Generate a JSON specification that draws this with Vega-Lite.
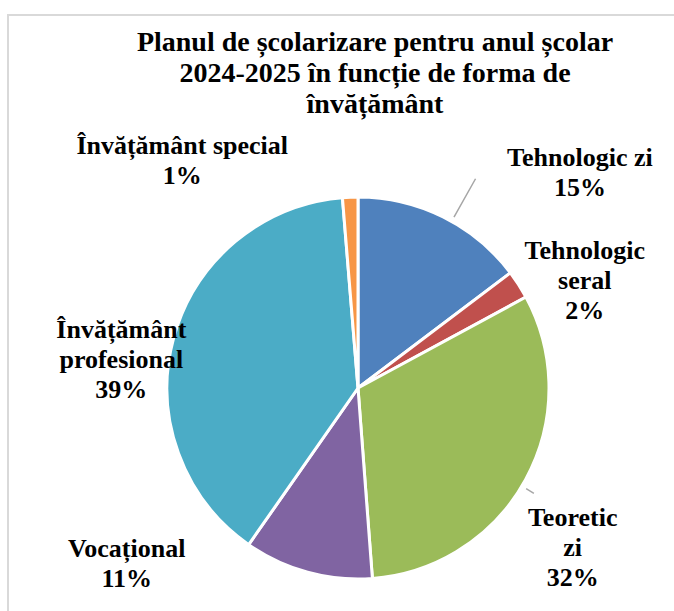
{
  "$schema": "https://vega.github.io/schema/vega-lite/v6.json",
  "width": 700,
  "height": 746,
  "autosize": {"type": "none"},
  "padding": {"left": 8, "top": 15, "right": 0, "bottom": 0},
  "background": "white",
  "view": {"stroke": "#d9d9d9", "strokeWidth": 2},
  "config": {
    "view": {"stroke": "#d9d9d9", "strokeWidth": 2},
    "text": {"font": "Liberation Serif", "fontWeight": "bold", "fontSize": 26, "lineHeight": 30, "lineBreak": "|", "align": "center", "baseline": "middle", "color": "#000000"}
  },
  "title": {
    "text": ["Planul de școlarizare pentru anul școlar", "2024-2025 în funcție de forma de", "învățământ"],
    "font": "Liberation Serif",
    "fontWeight": "bold",
    "fontSize": 28,
    "lineHeight": 31,
    "color": "#000000",
    "anchor": "middle",
    "frame": "group",
    "baseline": "alphabetic",
    "offset": -126,
    "dx": 17
  },
  "data": {
    "values": [
      {"category": "Tehnologic zi", "label": "Tehnologic zi", "value": 14.7, "rank": 1},
      {"category": "Tehnologic seral", "label": "Tehnologic|seral", "value": 2.4, "rank": 2},
      {"category": "Teoretic zi", "label": "Teoretic|zi", "value": 31.7, "rank": 3},
      {"category": "Vocațional", "label": "Vocațional", "value": 10.9, "rank": 4},
      {"category": "Învățământ profesional", "label": "Învățământ|profesional", "value": 39.0, "rank": 5},
      {"category": "Învățământ special", "label": "Învățământ special", "value": 1.3, "rank": 6}
    ]
  },
  "transform": [
    {"joinaggregate": [{"op": "sum", "field": "value", "as": "total"}]},
    {"window": [{"op": "sum", "field": "value", "as": "cum"}], "sort": [{"field": "rank", "order": "ascending"}], "frame": [null, 0]},
    {"calculate": "datum.cum - datum.value / 2", "as": "mid"},
    {"calculate": "datum.label + '|' + format(datum.value / datum.total, '.0%')", "as": "txt"}
  ],
  "layer": [
    {
      "mark": {"type": "arc", "outerRadius": 191, "stroke": "white", "strokeWidth": 3},
      "encoding": {
        "theta": {"field": "value", "type": "quantitative", "stack": true},
        "order": {"field": "rank", "type": "quantitative"},
        "color": {
          "field": "category",
          "type": "nominal",
          "scale": {
            "domain": ["Tehnologic zi", "Tehnologic seral", "Teoretic zi", "Vocațional", "Învățământ profesional", "Învățământ special"],
            "range": ["#4F81BD", "#C0504D", "#9BBB59", "#8064A2", "#4BACC6", "#F79646"]
          },
          "legend": null
        }
      }
    },
    {
      "transform": [{"filter": "datum.rank == 1"}],
      "mark": {"type": "arc", "radius": 196, "radius2": 240, "thetaOffset": 0.05, "theta2Offset": 0.05, "stroke": "#a6a6a6", "strokeWidth": 1.5, "fill": null},
      "encoding": {"theta": {"field": "mid", "type": "quantitative", "stack": null}, "theta2": {"field": "mid"}}
    },
    {
      "transform": [{"filter": "datum.rank == 3"}],
      "mark": {"type": "arc", "radius": 196, "radius2": 205, "thetaOffset": 0.04, "theta2Offset": 0.04, "stroke": "#a6a6a6", "strokeWidth": 1.5, "fill": null},
      "encoding": {"theta": {"field": "mid", "type": "quantitative", "stack": null}, "theta2": {"field": "mid"}}
    },
    {
      "transform": [{"filter": "datum.rank == 1"}],
      "mark": {"type": "text", "radius": 240, "dx": 115, "dy": -15},
      "encoding": {"theta": {"field": "mid", "type": "quantitative", "stack": null}, "text": {"field": "txt"}}
    },
    {
      "transform": [{"filter": "datum.rank == 2"}],
      "mark": {"type": "text", "radius": 240, "dx": 25, "dy": -7},
      "encoding": {"theta": {"field": "mid", "type": "quantitative", "stack": null}, "text": {"field": "txt"}}
    },
    {
      "transform": [{"filter": "datum.rank == 3"}],
      "mark": {"type": "text", "radius": 240, "dx": 4, "dy": 15},
      "encoding": {"theta": {"field": "mid", "type": "quantitative", "stack": null}, "text": {"field": "txt"}}
    },
    {
      "transform": [{"filter": "datum.rank == 4"}],
      "mark": {"type": "text", "radius": 240, "dx": -168, "dy": -70},
      "encoding": {"theta": {"field": "mid", "type": "quantitative", "stack": null}, "text": {"field": "txt"}}
    },
    {
      "transform": [{"filter": "datum.rank == 5"}],
      "mark": {"type": "text", "radius": 240, "dx": -5, "dy": 5},
      "encoding": {"theta": {"field": "mid", "type": "quantitative", "stack": null}, "text": {"field": "txt"}}
    },
    {
      "transform": [{"filter": "datum.rank == 6"}],
      "mark": {"type": "text", "radius": 240, "dx": -166, "dy": -2},
      "encoding": {"theta": {"field": "mid", "type": "quantitative", "stack": null}, "text": {"field": "txt"}}
    }
  ]
}
